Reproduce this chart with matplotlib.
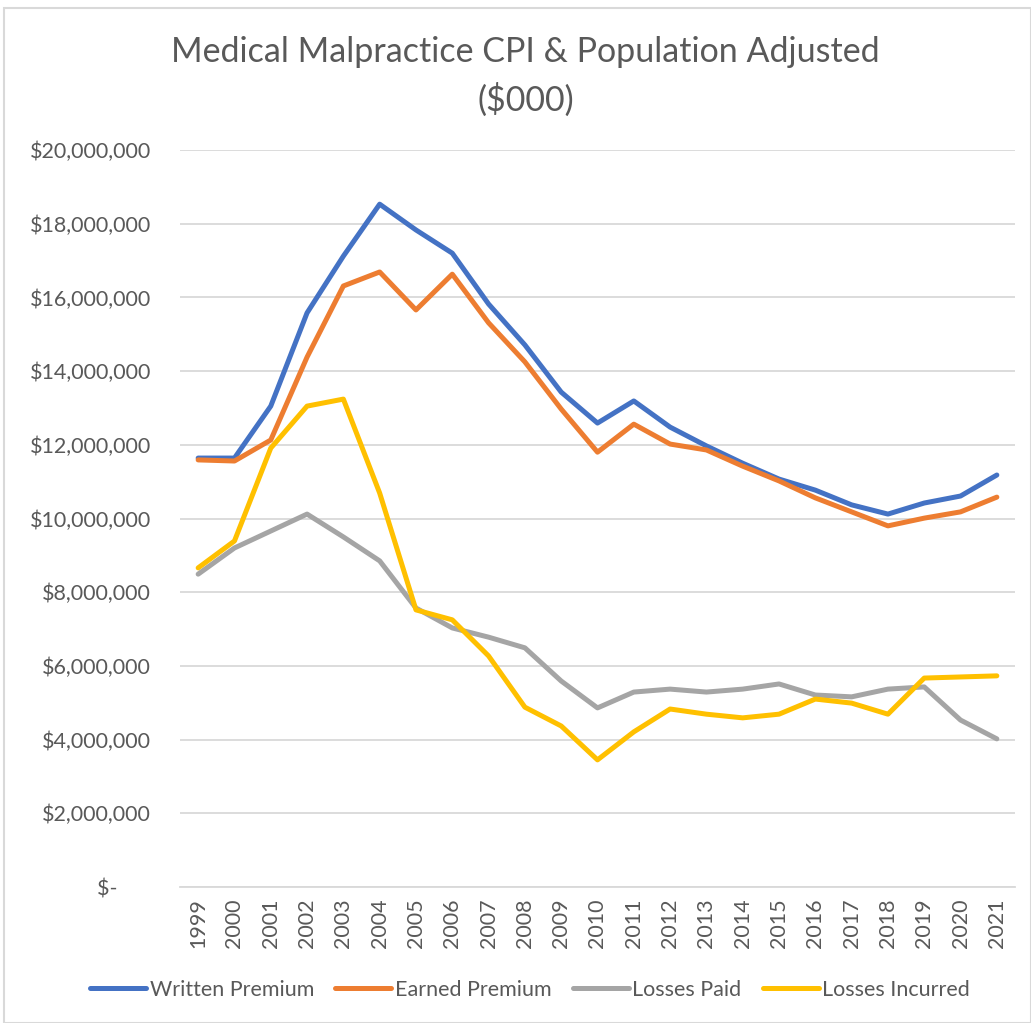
import numpy as np
import matplotlib.pyplot as plt
from matplotlib.ticker import FuncFormatter
from matplotlib.patches import Rectangle

plt.rcParams['font.family'] = ['Lato', 'DejaVu Sans']

years = [str(y) for y in range(1999, 2022)]

# values in $000
written = [11640000, 11640000, 13050000, 15580000, 17120000, 18530000, 17830000, 17200000,
           15820000, 14710000, 13430000, 12590000, 13190000, 12480000, 11970000, 11500000,
           11070000, 10770000, 10370000, 10120000, 10420000, 10610000, 11180000]
earned = [11590000, 11560000, 12130000, 14380000, 16310000, 16690000, 15660000, 16630000,
          15310000, 14250000, 12970000, 11800000, 12560000, 12020000, 11860000, 11420000,
          11020000, 10560000, 10180000, 9800000, 10010000, 10180000, 10580000]
paid = [8490000, 9200000, 9660000, 10120000, 9500000, 8850000, 7570000, 7030000,
        6780000, 6490000, 5590000, 4860000, 5290000, 5370000, 5290000, 5370000,
        5510000, 5210000, 5160000, 5370000, 5430000, 4530000, 4020000]
incurred = [8660000, 9390000, 11910000, 13050000, 13240000, 10690000, 7520000, 7250000,
            6270000, 4880000, 4370000, 3450000, 4210000, 4830000, 4690000, 4590000,
            4690000, 5100000, 4990000, 4690000, 5670000, 5700000, 5730000]

series = [('Written Premium', written, '#4472C4'),
          ('Earned Premium', earned, '#ED7D31'),
          ('Losses Paid', paid, '#A5A5A5'),
          ('Losses Incurred', incurred, '#FFC000')]

fig = plt.figure(figsize=(10.31, 10.23), dpi=100)
ax = fig.add_axes([180/1031, 1 - 887/1023, 835/1031, 737/1023])

x = np.arange(len(years))
for name, vals, col in series:
    ax.plot(x, vals, color=col, lw=3.6, label=name, solid_capstyle='round', solid_joinstyle='round')

ax.set_xlim(-0.5, len(years) - 0.5)
ax.set_ylim(0, 20000000)
ax.set_yticks(np.arange(0, 20000001, 2000000))

def fmt(v, pos):
    if v == 0:
        return '$-      '
    return '${:,.0f}'.format(v)

ax.yaxis.set_major_formatter(FuncFormatter(fmt))
ax.set_xticks(x)
ax.set_xticklabels(years, rotation=90)
ax.tick_params(axis='y', length=0, pad=21, labelsize=15.5, labelcolor='#595959')
ax.tick_params(axis='x', length=0, pad=8, labelsize=15.5, labelcolor='#595959')
ax.grid(axis='y', color='#D9D9D9', lw=1.3)
ax.set_axisbelow(True)
for s in ax.spines.values():
    s.set_visible(False)
ax.spines['bottom'].set_visible(True)
ax.spines['bottom'].set_color('#D9D9D9')
ax.spines['bottom'].set_linewidth(1.3)

fig.text(0.51, 1 - 52/1023, 'Medical Malpractice CPI & Population Adjusted', ha='center', va='center',
         fontsize=24.5, color='#595959')
fig.text(0.51, 1 - 100/1023, '($000)', ha='center', va='center', fontsize=24.5, color='#595959')

ax.legend(loc='center', bbox_to_anchor=(0.514, 1 - 990/1023), bbox_transform=fig.transFigure,
          ncol=4, frameon=False, fontsize=15.5, labelcolor='#595959', handlelength=2.6,
          handletextpad=0.15, columnspacing=1.0)

fig.patches.append(Rectangle((4/1031, 0), 1 - 4/1031, 1 - 8/1023, transform=fig.transFigure,
                             fill=False, edgecolor='#D9D9D9', lw=1.5))

fig.savefig('out.png', dpi=100)
